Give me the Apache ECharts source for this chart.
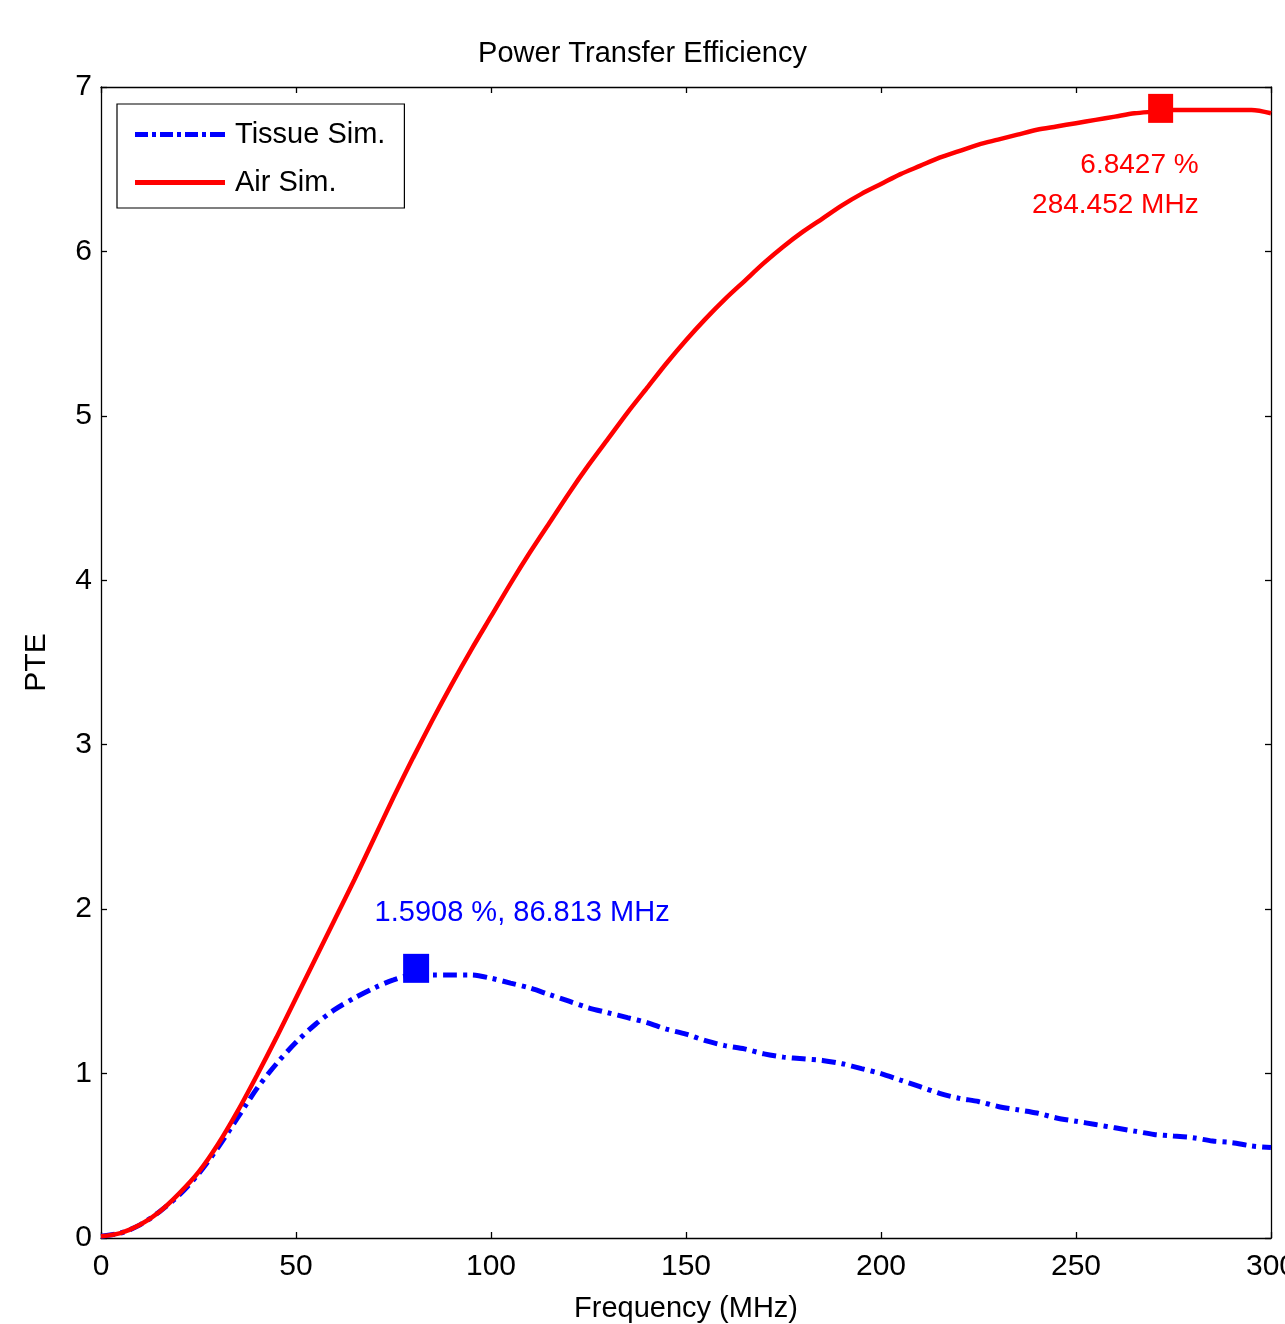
<!DOCTYPE html>
<html>
<head>
<meta charset="utf-8">
<script src="https://cdn.jsdelivr.net/npm/echarts@6/dist/echarts.min.js"></script>
<style>
html,body{margin:0;padding:0;background:#fff;}
#chart{width:1285px;height:1324px;}
</style>
</head>
<body>
<div id="chart"></div>
<script>
// ---- data ----
var freq = [0,5,10,15,20,25,30,35,40,45,50,55,60,65,70,75,80,85,90,95,100,105,110,115,120,125,130,135,140,145,150,155,160,165,170,175,180,185,190,195,200,205,210,215,220,225,230,235,240,245,250,255,260,265,270,275,280,285,290,295,300];
var airSim = [0.01,0.03,0.08,0.16,0.27,0.40,0.57,0.77,0.99,1.22,1.46,1.70,1.94,2.18,2.43,2.68,2.92,3.15,3.37,3.58,3.78,3.98,4.17,4.35,4.53,4.70,4.86,5.02,5.17,5.32,5.46,5.59,5.71,5.82,5.93,6.03,6.12,6.20,6.28,6.35,6.41,6.47,6.52,6.57,6.61,6.65,6.68,6.71,6.74,6.76,6.78,6.80,6.82,6.84,6.85,6.86,6.86,6.86,6.86,6.86,6.84];
var tissueSim = [0.01,0.03,0.08,0.16,0.26,0.39,0.55,0.73,0.91,1.06,1.19,1.30,1.39,1.46,1.52,1.57,1.60,1.60,1.60,1.60,1.58,1.55,1.52,1.48,1.44,1.40,1.37,1.34,1.31,1.27,1.24,1.20,1.17,1.15,1.12,1.10,1.09,1.08,1.06,1.03,1.00,0.96,0.92,0.88,0.85,0.83,0.80,0.78,0.76,0.73,0.71,0.69,0.67,0.65,0.63,0.62,0.61,0.59,0.58,0.56,0.55];
var seriesNames = ['Tissue Sim.', 'Air Sim.'];
var tissuePeak = [80.8, 1.64];
var airPeak = [271.7, 6.87];
var tissueLabel = '1.5908 %, 86.813 MHz';
var airLabel = '6.8427 %\n284.452 MHz';
var titleText = 'Power Transfer Efficiency';
var xName = 'Frequency (MHz)';
var yName = 'PTE';

function pairs(xs, ys){ return xs.map(function(x,i){ return [x, ys[i]]; }); }

var sans = "'Liberation Sans',Arial,sans-serif";

// legend icons (90 x 5 aspect)
var iconDashDot = 'path://M0,0h13v5h-13z M17,0h4v5h-4z M25,0h13v5h-13z M42,0h4v5h-4z M50,0h13v5h-13z M67,0h4v5h-4z M75,0h15v5h-15z';
var iconSolid = 'path://M0,0h90v5h-90z';

var chart = echarts.init(document.getElementById('chart'), null, {renderer:'canvas'});
var axisCommon = {
  min: 0,
  axisLine: {show:true, onZero:false, lineStyle:{color:'#000', width:1.3}},
  axisTick: {show:true, inside:true, length:6, lineStyle:{color:'#000', width:1.3}},
  splitLine: {show:false}
};
chart.setOption({
  animation: false,
  backgroundColor: '#fff',
  title: {
    text: titleText, left: 'center', top: 34,
    textStyle: {fontFamily: sans, fontSize: 29, fontWeight: 'normal', color:'#000'}
  },
  legend: {
    data: [{name: seriesNames[0], icon: iconDashDot}, {name: seriesNames[1], icon: iconSolid}],
    orient: 'vertical', left: 117, top: 104,
    itemWidth: 90, itemHeight: 5, itemGap: 19,
    padding: [16, 19, 11, 18],
    borderColor: '#000', borderWidth: 1.2,
    backgroundColor: '#fff',
    textStyle: {fontFamily: sans, fontSize: 29, color:'#000', padding:[0,0,0,5]}
  },
  grid: {left: 101, right: 14, top: 87, bottom: 86, containLabel: false, outerBoundsMode: 'none'},
  xAxis: [
    Object.assign({}, axisCommon, {
      type:'value', position:'bottom', max:300, interval:50,
      name: xName, nameLocation:'middle', nameGap: 56,
      nameTextStyle:{fontFamily: sans, fontSize: 29, color:'#000'},
      axisLabel:{fontFamily: sans, fontSize: 30, color:'#000', margin: 14}
    }),
    Object.assign({}, axisCommon, {
      type:'value', position:'top', max:300, interval:50,
      axisLabel:{show:false}
    })
  ],
  yAxis: [
    Object.assign({}, axisCommon, {
      type:'value', position:'left', max:7, interval:1,
      name: yName, nameLocation:'middle', nameGap: 49, nameRotate: 90,
      nameTextStyle:{fontFamily: sans, fontSize: 30, color:'#000'},
      axisLabel:{fontFamily: sans, fontSize: 30, color:'#000', margin: 9}
    }),
    Object.assign({}, axisCommon, {
      type:'value', position:'right', max:7, interval:1,
      axisLabel:{show:false}
    })
  ],
  series: [
    {
      name: seriesNames[0], type:'line', xAxisIndex:0, yAxisIndex:0,
      data: pairs(freq, tissueSim), showSymbol:false, symbol:'none', smooth:0.3,
      lineStyle:{color:'#0000ff', width:5, type:[14,6,4,6]},
      itemStyle:{color:'#0000ff'}, z:3
    },
    {
      name: seriesNames[1], type:'line', xAxisIndex:0, yAxisIndex:0,
      data: pairs(freq, airSim), showSymbol:false, symbol:'none', smooth:0.3,
      lineStyle:{color:'#ff0000', width:4.5},
      itemStyle:{color:'#ff0000'}, z:4
    },
    {
      name: 'tissuePeak', type:'scatter', xAxisIndex:0, yAxisIndex:0,
      data:[tissuePeak], symbol:'rect', symbolSize:[26,29],
      itemStyle:{color:'#0000ff', opacity:1}, z:5,
      label:{show:true, formatter: tissueLabel, position:'inside', offset:[106,-55],
        fontFamily: sans, fontSize: 29, color:'#0000ff', opacity:1, align:'center', verticalAlign:'middle'}
    },
    {
      name: 'airPeak', type:'scatter', xAxisIndex:0, yAxisIndex:0,
      data:[airPeak], symbol:'rect', symbolSize:[25,29],
      itemStyle:{color:'#ff0000', opacity:1}, z:5,
      label:{show:true, formatter: airLabel, position:'inside', offset:[38,77],
        fontFamily: sans, fontSize: 28, lineHeight: 40, color:'#ff0000', opacity:1, align:'right', verticalAlign:'middle'}
    }
  ]
});
</script>
</body>
</html>
